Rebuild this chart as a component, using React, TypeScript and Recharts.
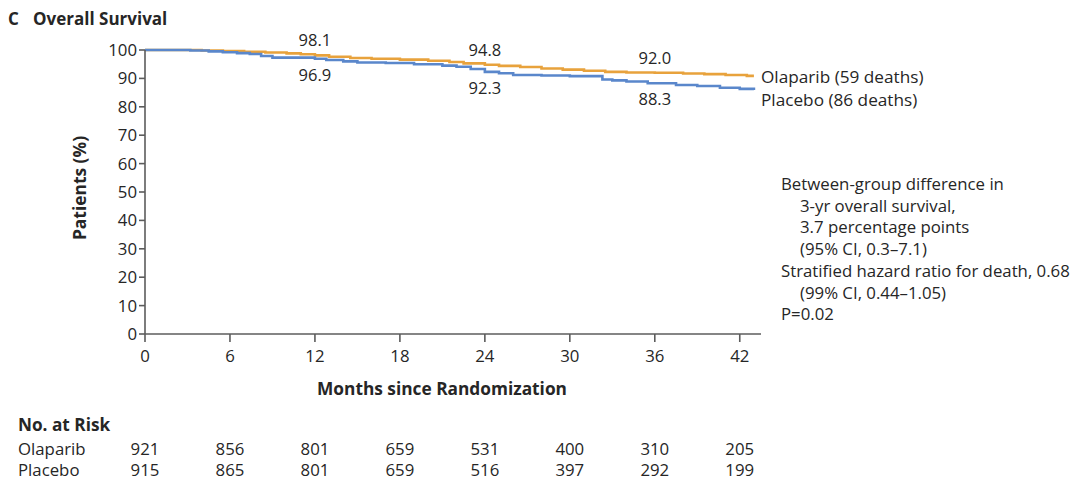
import React from 'react';
import { LineChart, Line, XAxis, YAxis, ReferenceDot } from 'recharts';

const olaparibMonths = [0, 4, 5.5, 7, 8.5, 10, 11, 12, 13, 14.5, 16, 18, 20, 21.5, 22.5, 24, 25, 26.5, 28, 29.5, 31, 32.5, 34, 36, 38, 39.5, 41, 42.5, 43];
const olaparibSurvival = [100, 99.8, 99.6, 99.4, 99.1, 98.8, 98.5, 98.1, 97.6, 97.2, 96.9, 96.6, 96.2, 95.8, 95.3, 94.8, 94.4, 94.0, 93.5, 93.1, 92.7, 92.3, 92.1, 92.0, 91.7, 91.5, 91.2, 90.9, 90.9];

const placeboMonths = [0, 3.2, 4.5, 5.5, 6.5, 7.4, 8.2, 9, 12, 12.8, 14, 15, 17, 19, 21, 22, 23, 24, 25, 26, 28, 30, 32.3, 33, 34, 35.5, 37.5, 39, 40.6, 42, 43];
const placeboSurvival = [100, 99.8, 99.5, 99.2, 98.9, 98.6, 97.9, 97.3, 96.9, 96.5, 96.0, 95.6, 95.4, 95.0, 94.5, 94.1, 93.3, 92.3, 91.8, 91.2, 91.0, 90.8, 89.6, 89.3, 88.9, 88.3, 87.7, 87.3, 86.7, 86.3, 85.9];

const monthTicks = [0, 6, 12, 18, 24, 30, 36, 42];
const yTicks = [0, 10, 20, 30, 40, 50, 60, 70, 80, 90, 100];
const olaparibAtRisk = [921, 856, 801, 659, 531, 400, 310, 205];
const placeboAtRisk = [915, 865, 801, 659, 516, 397, 292, 199];

const olaparibMarks = [
  { month: 12, value: 98.1 },
  { month: 24, value: 94.8 },
  { month: 36, value: 92.0 },
];
const placeboMarks = [
  { month: 12, value: 96.9 },
  { month: 24, value: 92.3 },
  { month: 36, value: 88.3 },
];

const ORANGE = '#E8A23C';
const BLUE = '#5A87CB';
const AXIS = '#5c5c5c';
const TEXT = '#262626';
const FONT = '"Open Sans", Lato, sans-serif';
const FS = 16.8;

const olaparibData = olaparibMonths.map((m, i) => ({ month: m, value: olaparibSurvival[i] }));
const placeboData = placeboMonths.map((m, i) => ({ month: m, value: placeboSurvival[i] }));

const XTick = (props: any) => {
  const { x, payload, index } = props;
  return (
    <g>
      <text x={x} y={362} textAnchor="middle" fontSize={FS} fill={TEXT} fontFamily={FONT}>
        {payload.value}
      </text>
      <text x={x} y={455} textAnchor="middle" fontSize={FS} fill={TEXT} fontFamily={FONT}>
        {olaparibAtRisk[index]}
      </text>
      <text x={x} y={476} textAnchor="middle" fontSize={FS} fill={TEXT} fontFamily={FONT}>
        {placeboAtRisk[index]}
      </text>
    </g>
  );
};

const YTick = (props: any) => {
  const { x, y, payload } = props;
  return (
    <text x={x} y={y} dy={6} textAnchor="end" fontSize={FS} fill={TEXT} fontFamily={FONT}>
      {payload.value}
    </text>
  );
};

const abs = (left: number, top: number, extra: React.CSSProperties = {}): React.CSSProperties => ({
  position: 'absolute',
  left,
  top,
  whiteSpace: 'nowrap',
  color: TEXT,
  fontFamily: FONT,
  lineHeight: 1,
  ...extra,
});

export default function App() {
  return (
    <div style={{ position: 'absolute', left: 0, top: 0, width: 1080, height: 490, background: '#fff', overflow: 'hidden' }}>
      <LineChart
        width={1080}
        height={490}
        margin={{ top: 50, right: 319, bottom: 126, left: 85 }}
      >
        <XAxis
          dataKey="month"
          type="number"
          domain={[0, 43.5]}
          ticks={monthTicks}
          allowDataOverflow
          height={30}
          stroke={AXIS}
          strokeWidth={1.6}
          tickSize={8}
          tickLine={{ stroke: AXIS, strokeWidth: 1.6 }}
          tick={<XTick />}
          interval={0}
        />
        <YAxis
          type="number"
          domain={[0, 100]}
          ticks={yTicks}
          width={60}
          stroke={AXIS}
          strokeWidth={1.6}
          tickSize={6}
          tickLine={{ stroke: AXIS, strokeWidth: 1.6 }}
          tick={<YTick />}
          interval={0}
        />
        <Line
          data={olaparibData}
          dataKey="value"
          type="stepAfter"
          stroke={ORANGE}
          strokeWidth={2.6}
          dot={false}
          isAnimationActive={false}
        />
        <Line
          data={placeboData}
          dataKey="value"
          type="stepAfter"
          stroke={BLUE}
          strokeWidth={2.6}
          dot={false}
          isAnimationActive={false}
        />
        {olaparibMarks.map((m) => (
          <ReferenceDot
            key={'o' + m.month}
            x={m.month}
            y={m.value}
            r={0}
            stroke="none"
            fill="none"
            label={{ value: m.value.toFixed(1), position: 'top', offset: 9, fontSize: 16.5, fill: TEXT, fontFamily: FONT }}
          />
        ))}
        {placeboMarks.map((m) => (
          <ReferenceDot
            key={'p' + m.month}
            x={m.month}
            y={m.value}
            r={0}
            stroke="none"
            fill="none"
            label={{ value: m.value.toFixed(1), position: 'bottom', offset: 10, fontSize: 16.5, fill: TEXT, fontFamily: FONT }}
          />
        ))}
      </LineChart>

      <div style={abs(8, 10, { fontSize: 17, fontWeight: 700 })}>C</div>
      <div style={abs(33, 10, { fontSize: 17, fontWeight: 700 })}>Overall Survival</div>

      <div
        style={abs(80, 188, {
          fontSize: 17.4,
          fontWeight: 700,
          transform: 'translate(-50%, -50%) rotate(-90deg)',
        })}
      >
        Patients (%)
      </div>

      <div style={abs(442, 389, { fontSize: 17.3, fontWeight: 700, transform: 'translate(-50%, -50%)' })}>
        Months since Randomization
      </div>

      <div style={abs(761, 68, { fontSize: 17.2 })}>Olaparib (59 deaths)</div>
      <div style={abs(761, 91, { fontSize: 17.2 })}>Placebo (86 deaths)</div>

      <div style={abs(781, 173, { fontSize: FS, lineHeight: '21.7px' })}>
        <div>Between-group difference in</div>
        <div style={{ paddingLeft: 19 }}>3-yr overall survival,</div>
        <div style={{ paddingLeft: 19 }}>3.7 percentage points</div>
        <div style={{ paddingLeft: 19 }}>(95% CI, 0.3–7.1)</div>
        <div>Stratified hazard ratio for death, 0.68</div>
        <div style={{ paddingLeft: 19 }}>(99% CI, 0.44–1.05)</div>
        <div>P=0.02</div>
      </div>

      <div style={abs(18, 416, { fontSize: 17.2, fontWeight: 700 })}>No. at Risk</div>
      <div style={abs(18, 441, { fontSize: FS })}>Olaparib</div>
      <div style={abs(18, 462, { fontSize: FS })}>Placebo</div>
    </div>
  );
}
